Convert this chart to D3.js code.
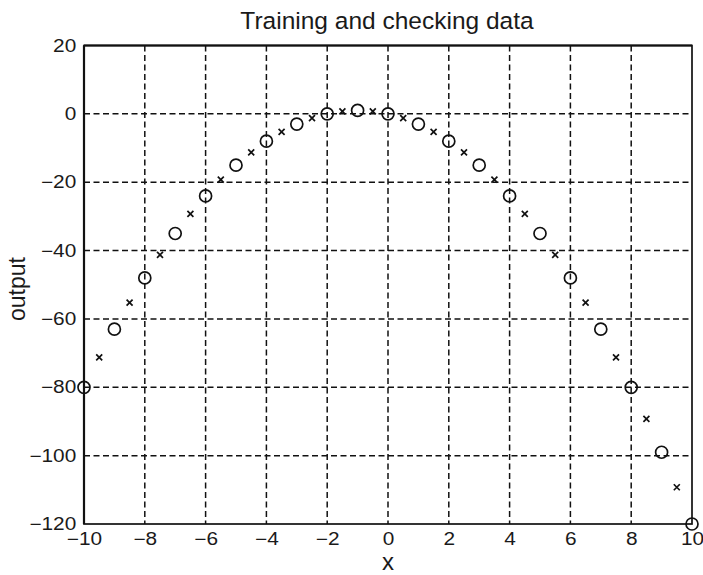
<!DOCTYPE html>
<html><head><meta charset="utf-8">
<script src="https://cdn.jsdelivr.net/npm/d3@7"></script>
<style>body{margin:0;background:#fff}svg{display:block}text{font-family:"Liberation Sans",Arial,sans-serif;fill:#1a1a1a}</style>
</head><body>
<svg id="c" width="703" height="575"></svg>
<script>
const trainX = [-10,-9,-8,-7,-6,-5,-4,-3,-2,-1,0,1,2,3,4,5,6,7,8,9,10];
const trainY = [-80,-63,-48,-35,-24,-15,-8,-3,0,1,0,-3,-8,-15,-24,-35,-48,-63,-80,-99,-120];
const checkX = [-9.5,-8.5,-7.5,-6.5,-5.5,-4.5,-3.5,-2.5,-1.5,-0.5,0.5,1.5,2.5,3.5,4.5,5.5,6.5,7.5,8.5,9.5];
const checkY = [-71.25,-55.25,-41.25,-29.25,-19.25,-11.25,-5.25,-1.25,0.75,0.75,-1.25,-5.25,-11.25,-19.25,-29.25,-41.25,-55.25,-71.25,-89.25,-109.25];
const xTicks = [-10,-8,-6,-4,-2,0,2,4,6,8,10];
const yTicks = [20,0,-20,-40,-60,-80,-100,-120];

const svg = d3.select("#c");
const L=84,R=692,T=45.5,B=524;
const x = d3.scaleLinear().domain([-10,10]).range([L,R]);
const y = d3.scaleLinear().domain([-120,20]).range([B,T]);

// grid
const g = svg.append("g");
g.selectAll(".vx").data(xTicks.slice(1,-1)).enter().append("line")
  .attr("x1",d=>x(d)).attr("x2",d=>x(d)).attr("y1",T).attr("y2",B)
  .attr("stroke","#111").attr("stroke-width",1.5).attr("stroke-dasharray","6,3.5");
g.selectAll(".hy").data(yTicks.slice(1,-1)).enter().append("line")
  .attr("y1",d=>y(d)).attr("y2",d=>y(d)).attr("x1",L).attr("x2",R)
  .attr("stroke","#111").attr("stroke-width",1.5).attr("stroke-dasharray","6,3.5");

// axes
const xa = svg.append("g").attr("transform",`translate(0,${B})`)
  .call(d3.axisBottom(x).tickValues(xTicks).tickSize(0).tickPadding(9));
const ya = svg.append("g").attr("transform",`translate(${L},0)`)
  .call(d3.axisLeft(y).tickValues(yTicks).tickSize(0).tickPadding(6.5));
[xa,ya].forEach(a=>{a.select(".domain").remove();a.selectAll("text").attr("font-size",17.5)
  .style("font-family","Liberation Sans, Arial, sans-serif").attr("fill","#1a1a1a")
  .attr("transform","scale(1.19,1)");});

// box
svg.append("rect").attr("x",L).attr("y",T).attr("width",R-L).attr("height",B-T)
  .attr("fill","none").attr("stroke","#111").attr("stroke-width",1.7);
svg.append("line").attr("x1",L).attr("x2",L).attr("y1",T).attr("y2",B).attr("stroke","#111").attr("stroke-width",2.2);
svg.append("line").attr("x1",L).attr("x2",R).attr("y1",T).attr("y2",T).attr("stroke","#111").attr("stroke-width",2.2);

// training circles
svg.append("g").selectAll("circle").data(trainX.map((v,i)=>[v,trainY[i]])).enter().append("circle")
  .attr("cx",d=>x(d[0])).attr("cy",d=>y(d[1])).attr("r",6)
  .attr("fill","none").attr("stroke","#111").attr("stroke-width",1.7);

// checking crosses
const s=3;
svg.append("g").selectAll("path").data(checkX.map((v,i)=>[v,checkY[i]])).enter().append("path")
  .attr("d",d=>{const cx=x(d[0]),cy=y(d[1]);return `M${cx-s},${cy-s}L${cx+s},${cy+s}M${cx-s},${cy+s}L${cx+s},${cy-s}`;})
  .attr("stroke","#111").attr("stroke-width",1.7).attr("fill","none");

// labels
svg.append("text").attr("x",387).attr("y",29).attr("text-anchor","middle").attr("font-size",24.5).text("Training and checking data");
svg.append("text").attr("x",388).attr("y",570).attr("text-anchor","middle").attr("font-size",24).text("x");
svg.append("text").attr("transform",`translate(25,289) rotate(-90)`).attr("text-anchor","middle").attr("font-size",23).text("output");
</script>
</body></html>
